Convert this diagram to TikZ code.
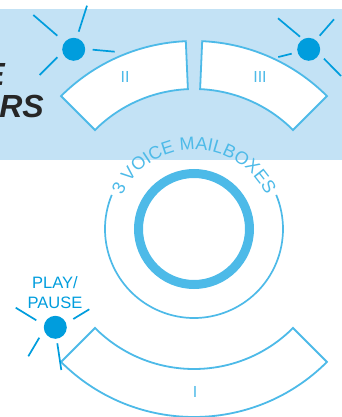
\documentclass[tikz,border=0pt]{standalone}
\usepackage{fontspec}
\setmainfont{Liberation Sans}
\usetikzlibrary{decorations.text}
\definecolor{panelblue}{HTML}{C3E2F5}
\definecolor{linkblue}{HTML}{4DBAE8}
\definecolor{ledblue}{HTML}{009DDD}
\tikzset{
  sector/.style={draw=linkblue,fill=white,line width=1.8pt,line join=miter},
  ray/.style={draw=ledblue,line width=1.7pt},
  led/.style={circle,fill=ledblue,minimum size=23pt,inner sep=0pt},
  seclabel/.style={text=linkblue,font=\fontsize{16}{16}\selectfont,inner sep=0pt},
  boldlabel/.style={text=black!85,font=\fontsize{32}{32}\selectfont\bfseries\itshape,anchor=base east,inner sep=0pt}
}
\begin{document}
\begin{tikzpicture}[x=1pt,y=1pt]
\useasboundingbox (0,0) rectangle (342,417);

\fill[panelblue] (0,257) rectangle (342,408);

% centre of the rings
\coordinate (cen) at (194,188);

% sectors
\draw[sector] ([shift={(135:188)}]cen) arc (135:92.5:188) -- ([shift={(92.5:140)}]cen) arc (92.5:135:140) -- cycle;
\draw[sector] ([shift={(87.5:188)}]cen) arc (87.5:45:188) -- ([shift={(45:140)}]cen) arc (45:87.5:140) -- cycle;
\draw[sector] ([shift={(225:188)}]cen) arc (225:315:188) -- ([shift={(315:140)}]cen) arc (315:225:140) -- cycle;

% rings
\draw[linkblue,line width=9pt] (cen) circle (55.5);
\draw[linkblue,line width=1.7pt] ([shift={(157.5:89)}]cen) arc (157.5:382.5:89);
\path[decorate,decoration={text along path,text align=center,
  text={|\fontsize{18}{18}\selectfont\color{linkblue}|3 VOICE MAILBOXES}}]
  ([shift={(165:79.5)}]cen) arc (165:15:79.5);

% leds
\node[led] (a) at (73.7,367.7) {};
\node[led] (b) at (308.7,367.7) {};
\node[led] (c) at (55.3,89.7) {};

% rays
\coordinate (a1) at (33.3,402);
\coordinate (a1i) at (57.3,381.3);
\coordinate (a2) at (87,411.3);
\coordinate (a2i) at (78.7,385.3);
\coordinate (a3) at (92.7,367.3);
\coordinate (a3i) at (114.7,365.3);
\coordinate (a4) at (57.3,359.7);
\coordinate (a4i) at (39.7,342);

\coordinate (b1) at (278,398.7);
\coordinate (b1i) at (300,380.3);
\coordinate (b2) at (334,397.7);
\coordinate (b2i) at (319.7,381.3);
\coordinate (b3) at (291.7,363.3);
\coordinate (b3i) at (278.3,360);
\coordinate (b4) at (324,358.3);
\coordinate (b4i) at (341,341);

\coordinate (c1) at (15.7,109.3);
\coordinate (c1i) at (36.3,96.7);
\coordinate (c2) at (89.3,107.7);
\coordinate (c2i) at (73.3,98);
\coordinate (c3) at (39.3,79.3);
\coordinate (c3i) at (28.3,60.7);
\coordinate (c4) at (57.3,73.7);
\coordinate (c4i) at (61.3,47);

\foreach \i in {a1,a2,a3,a4,b1,b2,b3,b4,c1,c2,c3,c4}
 \draw[ray] (\i)--(\i i);

% labels
\node[seclabel] (lab2) at (125,340) {II};
\node[seclabel] (lab3) at (260,340) {III};
\node[seclabel] (lab1) at (195,25) {I};
\node[text=ledblue,font=\fontsize{16.5}{20}\selectfont,align=center,inner sep=0pt] (play) at (55,124) {PLAY/\\PAUSE};
\node[boldlabel] (rs) at (44,299) {RS};
\node[boldlabel] (e) at (5,331) {E};
\end{tikzpicture}
\end{document}
